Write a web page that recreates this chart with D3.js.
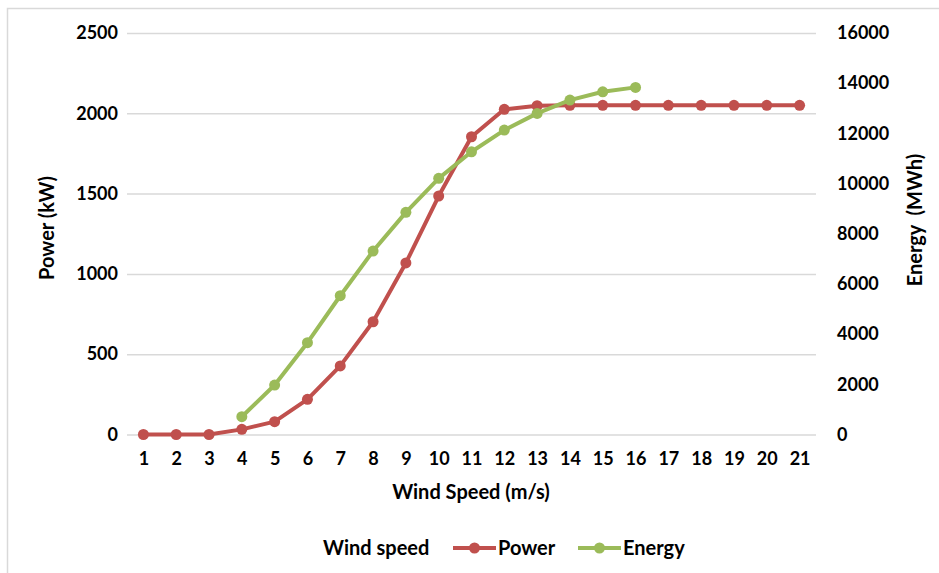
<!DOCTYPE html>
<html>
<head>
<meta charset="utf-8">
<script src="https://cdn.jsdelivr.net/npm/d3@7"></script>
<style>
  body { margin: 0; background: #fff; }
  svg text { font-family: Lato, "Open Sans", sans-serif; fill: #000; }
</style>
</head>
<body>
<div id="chart"></div>
<script>
const windSpeeds = [1, 2, 3, 4, 5, 6, 7, 8, 9, 10, 11, 12, 13, 14, 15, 16, 17, 18, 19, 20, 21];
const powerKw = [0, 0, 0, 32, 80, 219, 427, 702, 1068, 1485, 1854, 2025, 2047, 2050, 2050, 2050, 2050, 2050, 2050, 2050, 2050];
const energyWindSpeeds = [4, 5, 6, 7, 8, 9, 10, 11, 12, 13, 14, 15, 16];
const energyMwh = [709, 1972, 3658, 5530, 7311, 8853, 10207, 11267, 12131, 12797, 13327, 13657, 13833];
const powerTicks = [0, 500, 1000, 1500, 2000, 2500];
const energyTicks = [0, 2000, 4000, 6000, 8000, 10000, 12000, 14000, 16000];

const WIDTH = 939;
const HEIGHT = 573;
const PLOT = { left: 127, right: 816, top: 33, bottom: 434.5 };
const RED = '#C0504D';
const GREEN = '#9BBB59';
const GRID = '#D9D9D9';

const svg = d3.select('#chart').append('svg')
    .attr('width', WIDTH)
    .attr('height', HEIGHT);

// chart border (right and bottom edges fall outside the picture)
svg.append('rect')
    .attr('x', 7.5).attr('y', 8.5)
    .attr('width', WIDTH + 20).attr('height', HEIGHT + 20)
    .attr('fill', '#fff')
    .attr('stroke', GRID)
    .attr('stroke-width', 1.5);

const xScale = d3.scalePoint()
    .domain(windSpeeds)
    .range([PLOT.left, PLOT.right])
    .padding(0.5);

const yPower = d3.scaleLinear()
    .domain([0, 2500])
    .range([PLOT.bottom, PLOT.top]);

const yEnergy = d3.scaleLinear()
    .domain([0, 16000])
    .range([PLOT.bottom, PLOT.top]);

const plain = d3.format('d');

// gridlines
svg.append('g').attr('class', 'grid')
    .attr('transform', `translate(${PLOT.left},0)`)
    .call(d3.axisLeft(yPower).tickValues(powerTicks).tickSize(-(PLOT.right - PLOT.left)).tickFormat(''))
    .call(g => g.select('.domain').remove())
    .call(g => g.selectAll('line').attr('stroke', GRID).attr('stroke-width', 1.5));

// left axis
svg.append('g').attr('class', 'y-axis')
    .attr('transform', `translate(${PLOT.left - 9},0)`)
    .call(d3.axisLeft(yPower).tickValues(powerTicks).tickFormat(plain).tickSize(0).tickPadding(0))
    .call(g => g.select('.domain').remove())
    .call(g => g.selectAll('text').attr('font-size', 18).attr('font-weight', 700));

// right axis
svg.append('g').attr('class', 'y2-axis')
    .attr('transform', `translate(${PLOT.right + 21},0)`)
    .call(d3.axisRight(yEnergy).tickValues(energyTicks).tickFormat(plain).tickSize(0).tickPadding(0))
    .call(g => g.select('.domain').remove())
    .call(g => g.selectAll('text').attr('font-size', 18).attr('font-weight', 700));

// bottom axis
svg.append('g').attr('class', 'x-axis')
    .attr('transform', `translate(0,${PLOT.bottom})`)
    .call(d3.axisBottom(xScale).tickSize(0).tickPadding(18))
    .call(g => g.select('.domain').remove())
    .call(g => g.selectAll('text').attr('font-size', 18).attr('font-weight', 700));

// axis titles
svg.append('text')
    .attr('x', 471).attr('y', 499)
    .attr('text-anchor', 'middle')
    .attr('font-size', 20).attr('font-weight', 700)
    .text('Wind Speed (m/s)');

svg.append('text')
    .attr('transform', 'translate(54,228) rotate(-90)')
    .attr('text-anchor', 'middle')
    .attr('font-size', 20).attr('font-weight', 700)
    .text('Power (kW)');

svg.append('text')
    .attr('transform', 'translate(922,220) rotate(-90)')
    .attr('text-anchor', 'middle')
    .attr('font-size', 20).attr('font-weight', 700)
    .attr('xml:space', 'preserve')
    .text('Energy  (MWh)');

// series
const powerData = windSpeeds.map((w, i) => ({ x: w, y: powerKw[i] }));
const energyData = energyWindSpeeds.map((w, i) => ({ x: w, y: energyMwh[i] }));

function drawSeries(data, yScale, color) {
    const line = d3.line()
        .x(d => xScale(d.x))
        .y(d => yScale(d.y));
    const g = svg.append('g');
    g.append('path')
        .datum(data)
        .attr('fill', 'none')
        .attr('stroke', color)
        .attr('stroke-width', 4)
        .attr('stroke-linejoin', 'round')
        .attr('stroke-linecap', 'round')
        .attr('d', line);
    g.selectAll('circle').data(data).enter().append('circle')
        .attr('cx', d => xScale(d.x))
        .attr('cy', d => yScale(d.y))
        .attr('r', 5.5)
        .attr('fill', color);
}

drawSeries(powerData, yPower, RED);
drawSeries(energyData, yEnergy, GREEN);

// legend
const legend = svg.append('g').attr('class', 'legend').attr('font-size', 20).attr('font-weight', 700);
legend.append('text').attr('x', 323).attr('y', 555).text('Wind speed');

const legendItems = [
    { name: 'Power', color: RED, x: 453 },
    { name: 'Energy', color: GREEN, x: 578 }
];
legendItems.forEach(item => {
    legend.append('line')
        .attr('x1', item.x).attr('x2', item.x + 43)
        .attr('y1', 548).attr('y2', 548)
        .attr('stroke', item.color).attr('stroke-width', 4);
    legend.append('circle')
        .attr('cx', item.x + 21.5).attr('cy', 548).attr('r', 5.5)
        .attr('fill', item.color);
    legend.append('text').attr('x', item.x + 45).attr('y', 555).text(item.name);
});
</script>
</body>
</html>
